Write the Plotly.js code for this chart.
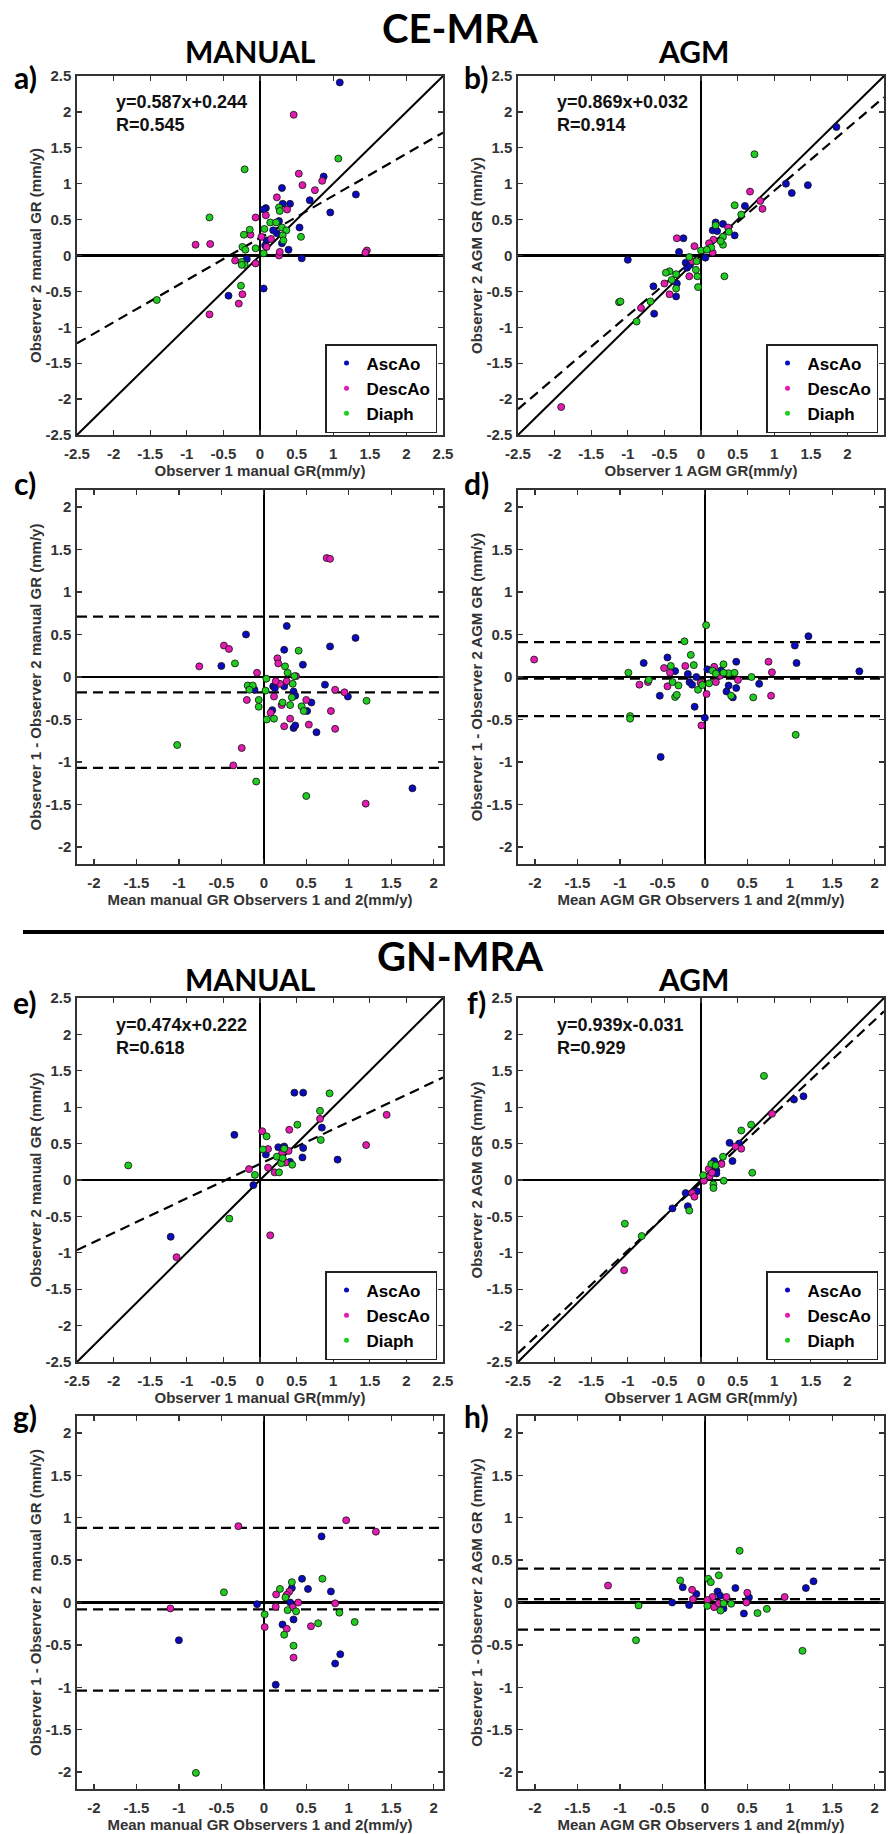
<!DOCTYPE html>
<html>
<head>
<meta charset="utf-8">
<script src="https://cdn.plot.ly/plotly-3.0.1.min.js"></script>
<style>
html,body{margin:0;padding:0;background:#fff;}
#chart{width:894px;height:1834px;}
</style>
</head>
<body>
<div id="chart"></div>
<script>
// ---------------- DATA ----------------
const groupNames = ['AscAo', 'DescAo', 'Diaph'];

// a) CE-MRA manual: observer 1 vs observer 2
const a_asc_x = [1.09, 0.87, 1.31, 0.96, 0.68, 0.30, 0.41, 0.31, 0.08, 0.05, 0.26, 0.54, 0.39, 0.57, -0.18, 0.05, -0.43, 0.09, 0.07, 0.23, 0.30, 0.18];
const a_asc_y = [2.41, 1.10, 0.85, 0.60, 0.77, 0.94, 0.72, 0.72, 0.66, 0.64, 0.48, 0.39, 0.08, -0.04, -0.05, -0.46, -0.56, 0.21, 0.14, 0.31, 0.17, 0.35];
const a_desc_x = [0.46, 0.53, 0.58, 0.85, 0.75, 0.23, 0.37, -0.06, 0.08, -0.13, -0.88, -0.68, 1.46, 1.44, -0.34, -0.06, -0.24, -0.29, -0.69, 0.26, 0.27, 0.15, 0.09, 0.02];
const a_desc_y = [1.96, 1.14, 0.98, 1.04, 0.91, 0.81, 0.64, 0.53, 0.56, 0.29, 0.15, 0.16, 0.07, 0.04, -0.07, -0.11, -0.54, -0.67, -0.82, 0.00, 0.05, 0.23, 0.12, 0.26];
const a_dia_x = [1.07, -0.21, -0.69, -1.41, 0.26, 0.27, 0.14, 0.22, 0.06, -0.14, -0.22, 0.30, 0.36, 0.31, 0.32, 0.56, -0.24, -0.20, -0.06, -0.26, -0.25, -0.21, -0.25, 0.05];
const a_dia_y = [1.35, 1.20, 0.53, -0.62, 0.67, 0.62, 0.46, 0.46, 0.37, 0.36, 0.29, 0.39, 0.35, 0.28, 0.21, 0.26, 0.12, 0.08, 0.10, -0.42, -0.09, -0.13, -0.13, 0.03];

// b) CE-MRA AGM
const b_asc_x = [1.85, 1.16, 1.24, 1.46, 0.60, 0.46, 0.30, 0.20, 0.16, 0.22, -0.24, -0.30, -1.00, -0.65, -0.64, -0.33, -0.34, -0.21, -0.19, 0.06, -0.15];
const b_asc_y = [1.79, 1.00, 0.87, 0.98, 0.69, 0.28, 0.44, 0.46, 0.35, 0.34, 0.24, 0.05, -0.06, -0.43, -0.81, -0.39, -0.57, -0.10, -0.17, -0.03, -0.13];
const b_desc_x = [-1.91, 0.67, 0.81, 0.84, -0.33, -0.09, -0.50, -0.43, -0.82, -0.16, 0.17, 0.11, 0.37, 0.16, -0.12];
const b_desc_y = [-2.11, 0.89, 0.76, 0.65, 0.24, 0.13, -0.39, -0.54, -0.73, -0.29, 0.22, 0.17, 0.39, 0.04, -0.08];
const b_dia_x = [0.73, 0.46, 0.55, 0.20, 0.38, 0.30, 0.30, 0.27, 0.32, -0.04, -0.05, -0.07, -0.06, 0.00, -0.16, -0.34, -0.43, -0.48, -0.40, -0.34, -1.12, -1.10, -0.69, -0.88, 0.14, 0.08];
const b_dia_y = [1.41, 0.70, 0.57, 0.42, 0.33, 0.26, 0.15, 0.20, -0.29, -0.44, -0.29, -0.20, -0.08, 0.07, -0.02, -0.26, -0.22, -0.24, -0.34, -0.46, -0.65, -0.64, -0.64, -0.92, 0.11, 0.08];

// c) CE-MRA manual Bland-Altman
const c_asc_x = [0.27, -0.21, 1.08, 0.78, 0.24, -0.50, 0.46, 0.72, 0.99, 0.56, 0.51, 0.62, 0.35, 0.37, 0.10, 0.11, 0.13, 0.35, 0.37, -0.11, 1.75, 0.24];
const c_asc_y = [0.60, 0.50, 0.46, 0.36, 0.32, 0.13, 0.145, -0.09, -0.23, -0.30, -0.40, -0.65, -0.60, -0.57, -0.39, -0.11, -0.13, -0.17, -0.22, -0.15, -1.31, -0.11];
const c_desc_x = [0.74, 0.78, -0.47, -0.41, -0.76, -0.08, 0.16, 0.17, -0.20, 0.12, 0.19, 0.27, 0.14, 0.08, 0.31, 0.24, 0.50, 0.53, 0.79, 0.84, 0.84, 0.95, -0.26, -0.36, 1.20, 0.21, 0.38];
const c_desc_y = [1.40, 1.39, 0.37, 0.33, 0.125, 0.05, 0.22, 0.16, -0.27, -0.23, -0.08, -0.05, -0.05, -0.42, -0.49, -0.58, -0.27, -0.56, -0.40, -0.61, -0.15, -0.18, -0.835, -1.04, -1.49, -0.33, 0.01];
const c_dia_x = [0.41, -0.34, 0.25, 0.28, 0.36, 0.03, 0.34, 0.02, -0.19, -0.13, -0.17, -0.06, -0.06, 0.22, 0.31, 0.33, 0.445, 0.47, 0.035, 0.12, -1.02, -0.09, 0.50, 1.21];
const c_dia_y = [0.31, 0.16, 0.125, 0.05, 0.01, -0.02, -0.08, -0.16, -0.10, -0.10, -0.15, -0.27, -0.35, -0.30, -0.33, -0.24, -0.345, -0.40, -0.50, -0.49, -0.80, -1.23, -1.40, -0.28];

// d) CE-MRA AGM Bland-Altman
const d_asc_x = [1.22, 1.06, 1.08, 1.82, 0.37, -0.44, -0.72, -0.35, -0.20, -0.10, -0.18, -0.15, -0.53, -0.12, 0.00, -0.52, 0.64, 0.37, 0.33, 0.255, 0.28, 0.19, 0.03];
const d_asc_y = [0.48, 0.37, 0.165, 0.067, 0.18, 0.23, 0.165, 0.07, 0.035, 0.00, -0.06, -0.09, -0.22, -0.35, -0.48, -0.94, -0.08, -0.13, -0.24, -0.17, -0.10, 0.075, 0.09];
const d_desc_x = [-2.01, 0.75, 0.79, 0.78, -0.48, -0.41, -0.23, -0.77, -0.67, -0.44, -0.04, 0.02, 0.11, 0.13, 0.18, 0.39, -0.05];
const d_desc_y = [0.205, 0.18, 0.055, -0.22, 0.105, 0.05, 0.13, -0.09, -0.06, -0.11, -0.57, -0.20, 0.12, -0.06, 0.015, -0.035, -0.07];
const d_dia_x = [0.015, -0.24, -0.165, -0.13, -0.40, -0.90, -0.66, -0.38, -0.31, -0.35, -0.33, -0.88, -0.88, -0.08, -0.03, 0.05, 0.09, 0.13, 0.22, 0.28, 0.35, 0.31, 0.55, 0.57, 1.07, 0.22];
const d_dia_y = [0.61, 0.42, 0.26, 0.14, 0.13, 0.05, -0.035, -0.06, -0.10, -0.235, -0.21, -0.46, -0.49, -0.15, -0.095, -0.075, 0.075, 0.04, 0.15, 0.045, 0.05, -0.22, 0.00, -0.24, -0.68, 0.05];

// e) GN-MRA manual
const e_asc_x = [0.47, 0.59, -0.35, 0.845, 0.25, 0.59, 0.58, 1.06, 0.08, 0.41, -0.09, -1.22, 0.33];
const e_asc_y = [1.20, 1.20, 0.62, 0.72, 0.45, 0.44, 0.31, 0.28, 0.35, 0.25, -0.07, -0.78, 0.46];
const e_desc_x = [1.73, 1.45, 0.82, 0.40, 0.03, 0.11, -0.15, 0.11, 0.20, 0.35, 0.30, 0.39, 0.14, -1.14];
const e_desc_y = [0.895, 0.48, 0.84, 0.69, 0.67, 0.425, 0.15, 0.17, 0.105, 0.24, 0.365, 0.40, -0.76, -1.06];
const e_dia_x = [0.95, 0.82, 0.51, 0.83, 0.09, 0.04, 0.33, 0.23, 0.29, 0.44, 0.26, -0.07, -1.80, -0.42, 0.31];
const e_dia_y = [1.19, 0.95, 0.76, 0.55, 0.60, 0.42, 0.43, 0.32, 0.23, 0.21, 0.105, 0.07, 0.20, -0.53, 0.30];

// f) GN-MRA AGM
const f_asc_x = [1.27, 1.40, 0.39, 0.52, 0.43, 0.18, 0.21, 0.21, -0.21, -0.055, -0.18, -0.39];
const f_asc_y = [1.105, 1.15, 0.51, 0.50, 0.26, 0.26, 0.13, 0.09, -0.18, -0.155, -0.36, -0.39];
const f_desc_x = [0.97, 0.55, 0.47, 0.28, 0.105, 0.12, 0.15, 0.04, -0.12, -0.09, -1.05];
const f_desc_y = [0.91, 0.43, 0.46, 0.22, 0.15, 0.05, 0.10, -0.01, -0.18, -0.23, -1.24];
const f_dia_x = [0.86, 0.685, 0.55, 0.30, 0.14, 0.20, 0.70, 0.31, 0.17, 0.17, 0.03, -0.16, -1.04, -0.81];
const f_dia_y = [1.43, 0.76, 0.68, 0.32, 0.22, 0.20, 0.10, -0.01, -0.06, -0.11, 0.065, -0.42, -0.60, -0.77];

// g) GN-MRA manual Bland-Altman
const g_asc_x = [0.68, 0.45, 0.52, 0.33, 0.79, -0.08, 0.31, 0.35, 0.22, -1.00, 0.90, 0.84, 0.14];
const g_asc_y = [0.78, 0.28, 0.16, 0.17, 0.13, -0.02, 0.00, -0.20, -0.26, -0.445, -0.61, -0.72, -0.97];
const g_desc_x = [-0.30, 0.97, 1.32, -1.10, 0.145, 0.30, 0.27, 0.405, 0.14, 0.34, 0.01, 0.27, 0.555, 0.35, 0.84];
const g_desc_y = [0.90, 0.97, 0.835, -0.07, 0.095, 0.13, 0.09, 0.00, -0.05, -0.055, -0.29, -0.31, -0.28, -0.65, -0.01];
const g_dia_x = [-0.47, 0.19, 0.33, 0.69, 0.255, 0.28, 0.38, 0.01, 0.89, 1.07, 0.64, 0.24, 0.35, -0.80];
const g_dia_y = [0.12, 0.16, 0.24, 0.28, 0.06, -0.09, -0.105, -0.14, -0.12, -0.23, -0.245, -0.38, -0.51, -2.01];

// h) GN-MRA AGM Bland-Altman
const h_asc_x = [-0.26, -0.10, -0.385, -0.185, 0.15, 0.18, 0.36, 1.19, 1.28, 0.46, 0.22, 0.52];
const h_asc_y = [0.18, 0.10, 0.00, -0.03, 0.13, 0.08, 0.17, 0.17, 0.25, -0.13, -0.07, 0.06];
const h_desc_x = [-1.14, -0.15, -0.14, 0.09, 0.255, 0.50, 0.49, 0.94, 0.11, 0.03, 0.165];
const h_desc_y = [0.20, 0.15, 0.04, 0.065, 0.065, 0.115, 0.00, 0.065, -0.055, 0.03, -0.01];
const h_dia_x = [0.41, 0.04, 0.07, 0.165, -0.29, -0.78, -0.81, 0.03, 0.185, 0.22, 0.31, 0.62, 0.73, 1.15];
const h_dia_y = [0.61, 0.28, 0.24, 0.32, 0.26, -0.035, -0.445, -0.04, -0.095, -0.01, -0.015, -0.125, -0.075, -0.57];

// regression fits (panels a, b, e, f)
const regSlopes = [0.587, 0.869, 0.474, 0.939];
const regIntercepts = [0.244, 0.032, 0.222, -0.031];
const regR = [0.545, 0.914, 0.618, 0.929];

// Bland-Altman lines (upper LoA, bias, lower LoA) for c, d, g, h
const baLines_c = [0.71, -0.18, -1.07];
const baLines_d = [0.41, -0.02, -0.46];
const baLines_g = [0.88, -0.08, -1.04];
const baLines_h = [0.40, 0.04, -0.32];

// axes
const scatterRange = [-2.5, 2.5];
const baRangeX = [-2.2, 2.11];
const baRangeY = [-2.2, 2.2];
const scatterTickVals = [-2.5, -2, -1.5, -1, -0.5, 0, 0.5, 1, 1.5, 2, 2.5];
const scatterTickText = ['-2.5', '-2', '-1.5', '-1', '-0.5', '0', '0.5', '1', '1.5', '2', '2.5'];
const baTickVals = [-2, -1.5, -1, -0.5, 0, 0.5, 1, 1.5, 2];
const baTickText = ['-2', '-1.5', '-1', '-0.5', '0', '0.5', '1', '1.5', '2'];

// texts
const sectionTitles = ['CE-MRA', 'GN-MRA'];
const methodTitles = ['MANUAL', 'AGM'];
const panelLetters = ['a)', 'b)', 'c)', 'd)', 'e)', 'f)', 'g)', 'h)'];
const scatterXTitles = ['Observer 1 manual GR(mm/y)', 'Observer 1 AGM GR(mm/y)'];
const scatterYTitles = ['Observer 2 manual GR (mm/y)', 'Observer 2 AGM GR (mm/y)'];
const baXTitles = ['Mean manual GR Observers 1 and 2(mm/y)', 'Mean AGM GR Observers 1 and 2(mm/y)'];
const baYTitles = ['Observer 1 - Observer 2 manual GR (mm/y)', 'Observer 1 - Observer 2 AGM GR (mm/y)'];

// ---------------- STYLE / LAYOUT ----------------
const W = 894, H = 1834;
const colors = ['#0a0abf', '#e31bb0', '#1fcc1f'];
const axFont = 'Liberation Sans, Arial, sans-serif';
const bigFont = 'Lato, Open Sans, sans-serif';

const panelData = [
  [[a_asc_x, a_asc_y], [a_desc_x, a_desc_y], [a_dia_x, a_dia_y]],
  [[b_asc_x, b_asc_y], [b_desc_x, b_desc_y], [b_dia_x, b_dia_y]],
  [[c_asc_x, c_asc_y], [c_desc_x, c_desc_y], [c_dia_x, c_dia_y]],
  [[d_asc_x, d_asc_y], [d_desc_x, d_desc_y], [d_dia_x, d_dia_y]],
  [[e_asc_x, e_asc_y], [e_desc_x, e_desc_y], [e_dia_x, e_dia_y]],
  [[f_asc_x, f_asc_y], [f_desc_x, f_desc_y], [f_dia_x, f_dia_y]],
  [[g_asc_x, g_asc_y], [g_desc_x, g_desc_y], [g_dia_x, g_dia_y]],
  [[h_asc_x, h_asc_y], [h_desc_x, h_desc_y], [h_dia_x, h_dia_y]]
];
const baLinesByPanel = {2: baLines_c, 3: baLines_d, 6: baLines_g, 7: baLines_h};
const scatterPanels = [0, 1, 4, 5];

// pixel boxes of each panel (left, right, top, bottom)
const colPx = [[77, 443], [518, 884]];
const rowPx = [[76, 435], [490, 864], [998, 1362], [1416, 1789]];

const layout = {
  width: W, height: H,
  margin: {l: 0, r: 0, t: 0, b: 0},
  paper_bgcolor: '#fff', plot_bgcolor: '#fff',
  showlegend: true,
  annotations: [], shapes: []
};
const traces = [];
const titleFont = {family: axFont, size: 15, color: '#333', weight: 700};

function axisCommon() {
  return {
    ticks: 'inside', ticklen: 5, tickwidth: 1.3, tickcolor: '#333',
    mirror: 'allticks', showline: true, linecolor: '#333', linewidth: 1.6,
    showgrid: false, zeroline: true, zerolinecolor: '#000', zerolinewidth: 2.2,
    tickmode: 'array', fixedrange: true, automargin: false,
    tickfont: {family: axFont, size: 15, color: '#333', weight: 700}
  };
}

for (let p = 0; p < 8; p++) {
  const col = p % 2, row = Math.floor(p / 2);
  const isScatter = scatterPanels.includes(p);
  const xn = p === 0 ? 'x' : 'x' + (p + 1);
  const yn = p === 0 ? 'y' : 'y' + (p + 1);
  const xk = p === 0 ? 'xaxis' : 'xaxis' + (p + 1);
  const yk = p === 0 ? 'yaxis' : 'yaxis' + (p + 1);
  const [L, R] = colPx[col];
  const [T, B] = rowPx[row];

  layout[xk] = Object.assign(axisCommon(), {
    domain: [L / W, R / W], anchor: yn,
    range: isScatter ? scatterRange : baRangeX,
    tickvals: isScatter ? scatterTickVals : baTickVals,
    ticktext: isScatter ? scatterTickText : baTickText,
    ticklabelstandoff: 4,
    title: {text: isScatter ? scatterXTitles[col] : baXTitles[col], font: titleFont, standoff: 5}
  });
  layout[yk] = Object.assign(axisCommon(), {
    domain: [1 - B / H, 1 - T / H], anchor: xn,
    range: isScatter ? scatterRange : baRangeY,
    tickvals: isScatter ? scatterTickVals : baTickVals,
    ticktext: isScatter ? scatterTickText : baTickText,
    ticklabelstandoff: 1,
    title: {text: isScatter ? scatterYTitles[col] : baYTitles[col], font: titleFont, standoff: 0}
  });

  // reference lines
  if (isScatter) {
    const k = scatterPanels.indexOf(p);
    traces.push({x: scatterRange, y: scatterRange.map(v => v), xaxis: xn, yaxis: yn,
      mode: 'lines', line: {color: '#000', width: 2}, showlegend: false, hoverinfo: 'skip'});
    traces.push({x: scatterRange, y: scatterRange.map(v => regSlopes[k] * v + regIntercepts[k]),
      xaxis: xn, yaxis: yn, mode: 'lines', line: {color: '#000', width: 2.2, dash: '10px,6px'},
      showlegend: false, hoverinfo: 'skip'});
    const b = regIntercepts[k];
    layout.annotations.push({
      xref: xn + ' domain', yref: yn + ' domain', x: 0.1, y: 0.96,
      xanchor: 'left', yanchor: 'top', align: 'left', showarrow: false,
      text: 'y=' + regSlopes[k] + 'x' + (b >= 0 ? '+' : '') + b + '<br>R=' + regR[k],
      font: {family: axFont, size: 18, color: '#111', weight: 700}
    });
  } else {
    baLinesByPanel[p].forEach(v => {
      traces.push({x: baRangeX, y: [v, v], xaxis: xn, yaxis: yn, mode: 'lines',
        line: {color: '#000', width: 2.2, dash: '10px,6px'}, showlegend: false, hoverinfo: 'skip'});
    });
  }

  // data markers
  panelData[p].forEach((xy, g) => {
    traces.push({
      x: xy[0], y: xy[1], xaxis: xn, yaxis: yn, mode: 'markers', name: groupNames[g],
      marker: {size: 7, color: colors[g], line: {color: '#111', width: 0.8}},
      showlegend: false
    });
  });

  // legend (scatter panels)
  if (isScatter) {
    const k = scatterPanels.indexOf(p);
    const lname = k === 0 ? 'legend' : 'legend' + (k + 1);
    groupNames.forEach((nm, g) => {
      traces.push({x: [null], y: [null], xaxis: xn, yaxis: yn, mode: 'markers', name: nm,
        marker: {size: 5, color: colors[g]}, legend: lname, showlegend: true, hoverinfo: 'skip'});
    });
    layout[lname] = {
      x: (R - 6) / W, y: 1 - (B - 2) / H, xref: 'paper', yref: 'paper',
      xanchor: 'right', yanchor: 'bottom', bgcolor: '#fff', bordercolor: '#222', borderwidth: 1.5,
      font: {family: axFont, size: 17, color: '#000', weight: 700},
      itemwidth: 30, tracegroupgap: 0, traceorder: 'normal', itemclick: false, itemdoubleclick: false
    };
  }

  // panel letter
  layout.annotations.push({
    xref: 'paper', yref: 'paper', x: (col === 0 ? 25 : 476) / W,
    y: 1 - (row === 0 ? 77 : row === 1 ? 483 : row === 2 ? 1002 : 1416) / H,
    xanchor: 'center', yanchor: 'middle', showarrow: false, text: panelLetters[p],
    font: {family: bigFont, size: 30, color: '#000', weight: 700}
  });
}

// section and method titles
[[28, 0], [956, 1]].forEach(([py, i]) => {
  layout.annotations.push({xref: 'paper', yref: 'paper', x: 460 / W, y: 1 - py / H,
    xanchor: 'center', yanchor: 'middle', showarrow: false, text: sectionTitles[i],
    font: {family: bigFont, size: 40, color: '#000', weight: 700}});
});
[[51], [979]].forEach(([py]) => {
  methodTitles.forEach((t, i) => {
    layout.annotations.push({xref: 'paper', yref: 'paper', x: (i === 0 ? 250 : 693) / W, y: 1 - py / H,
      xanchor: 'center', yanchor: 'middle', showarrow: false, text: t,
      font: {family: bigFont, size: 30, color: '#000', weight: 700}});
  });
});

// separator between CE-MRA and GN-MRA
layout.shapes.push({type: 'line', xref: 'paper', yref: 'paper', x0: 23 / W, x1: 884 / W,
  y0: 1 - 932 / H, y1: 1 - 932 / H, line: {color: '#000', width: 4}});

Plotly.newPlot('chart', traces, layout, {staticPlot: true, displayModeBar: false});
</script>
</body>
</html>
